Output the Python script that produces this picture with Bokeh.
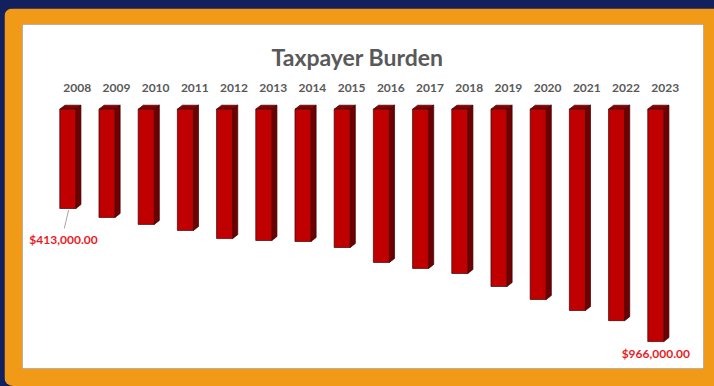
from bokeh.plotting import figure
from bokeh.models import Range1d
from bokeh.layouts import column
from bokeh.embed import file_html
from bokeh.resources import INLINE
from bokeh.core.properties import value

# ---- data ----
years = ["2008", "2009", "2010", "2011", "2012", "2013", "2014", "2015",
         "2016", "2017", "2018", "2019", "2020", "2021", "2022", "2023"]
burden = [413000, 450000, 479000, 504000, 538000, 546000, 550000, 575000,
          637000, 662000, 683000, 737000, 791000, 837000, 879000, 966000]
title_text = "Taxpayer Burden"

def money(v):
    return "${:,.2f}".format(v)

# ---- style ----
NAVY = "#12215e"
ORANGE = "#F19A17"
FRONT = "#C00000"
SIDE = "#6E0000"
TOP = "#8A0000"
EDGE = "#3A0000"
GREY = "#595959"
RED = "#EC1A1F"
FONT = value("Lato")

idx = list(range(len(years)))
W = 0.41      # front face width (index units)
DX = 0.13     # depth offset x
DY = 16500    # depth offset y (value units)

p = figure(width=710, height=378,
           x_range=Range1d(-1.156, 16.217),
           y_range=Range1d(1078000, -352000),
           x_axis_location=None, y_axis_location=None,
           min_border_left=18, min_border_right=11,
           min_border_top=16, min_border_bottom=18,
           border_fill_color=ORANGE, background_fill_color="white",
           outline_line_color=None,
           output_backend="svg", toolbar_location=None)
p.grid.visible = False
p.styles = {"border-radius": "9px 0 0 9px", "overflow": "hidden"}

# side faces
side_xs = [[i + W / 2, i + W / 2 + DX, i + W / 2 + DX, i + W / 2] for i in idx]
side_ys = [[0, -DY, v - DY, v] for v in burden]
p.patches(side_xs, side_ys, fill_color=SIDE, line_color=EDGE, line_width=0.7)

# top caps
top_xs = [[i - W / 2, i + W / 2, i + W / 2 + DX, i - W / 2 + DX] for i in idx]
top_ys = [[0, 0, -DY, -DY] for _ in idx]
p.patches(top_xs, top_ys, fill_color=TOP, line_color=EDGE, line_width=0.7)

# front faces
p.quad(left=[i - W / 2 for i in idx], right=[i + W / 2 for i in idx],
       top=[0] * len(idx), bottom=burden,
       fill_color=FRONT, line_color=EDGE, line_width=0.7)

# year labels (category axis on top)
p.text(x=[i + 0.24 for i in idx], y=[-86000] * len(idx), text=years,
       text_font=FONT, text_font_style="bold", text_font_size="12px",
       text_color=GREY, text_align="center", text_baseline="middle")

# title
p.text(x=[7.39], y=[-215000], text=[title_text],
       text_font=FONT, text_font_style="bold", text_font_size="23px",
       text_color=GREY, text_align="center", text_baseline="middle")

# data labels: first and last
first, last = 0, len(idx) - 1
p.segment(x0=[first + 0.02], y0=[burden[first] + 6000],
          x1=[first - 0.09], y1=[burden[first] + 83000],
          line_color="#A6A6A6", line_width=1)
p.text(x=[first - 0.11], y=[burden[first] + 129000], text=[money(burden[first])],
       text_font=FONT, text_font_style="bold", text_font_size="12px",
       text_color=RED, text_align="center", text_baseline="middle")
p.text(x=[last], y=[burden[last] + 50000], text=[money(burden[last])],
       text_font=FONT, text_font_style="bold", text_font_size="12px",
       text_color=RED, text_align="center", text_baseline="middle")

layout = column(p, width=714, height=386,
                styles={"background-color": NAVY, "padding": "8px 0 0 4px",
                        "box-sizing": "border-box"})

open("out.html", "w").write(file_html(layout, INLINE))
